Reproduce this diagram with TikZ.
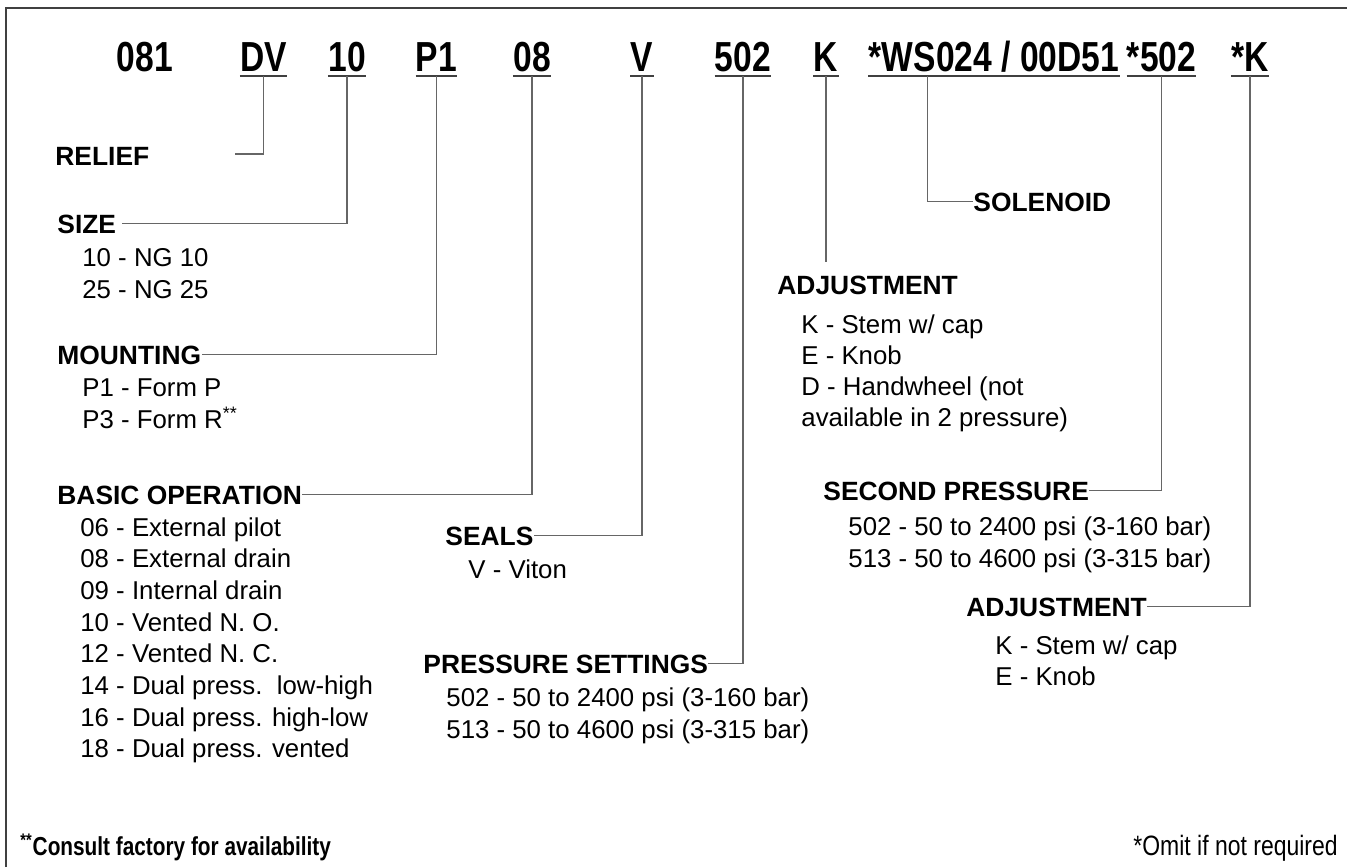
\documentclass[tikz,border=0pt]{standalone}
\usepackage{fontspec}
\setmainfont{Liberation Sans}
\newfontfamily\condbold{Liberation Sans Bold}[FakeStretch=0.8]
\newfontfamily\condreg{Liberation Sans}[FakeStretch=0.82]
\usetikzlibrary{calc}
\usetikzlibrary{positioning}
\tikzset{
  code/.style={anchor=base, inner xsep=0pt, inner ysep=2.5pt, text depth=0pt,
    font=\condbold\fontsize{21}{24}\selectfont},
  uline/.style={line width=1pt, black!75},
  head/.style={anchor=base west, inner sep=0pt, text depth=0pt,
    font=\bfseries\fontsize{13.2}{16}\selectfont},
  item/.style={anchor=base west, inner sep=0pt, font=\fontsize{12.9}{15}\selectfont},
  conn/.style={line width=0.6pt, black!60},
  frame/.style={line width=0.6pt, black!75},
}

\begin{document}
\begin{tikzpicture}[x=0.5pt, y=-0.5pt]
    \useasboundingbox (0,0) rectangle (1347,867);
    %% frame
    \draw[frame] (6,867) -- (6,8) -- (1347,8);
    %% model code
    \draw (145, 71) node[code](c081){081} ;
    \draw (263.5, 71) node[code](dv){DV} ;
    \draw (347, 71) node[code](ten){10} ;
    \draw (436.5, 71) node[code](pone){P1} ;
    \draw (532, 71) node[code](oeight){08} ;
    \draw (642, 71) node[code](vee){V} ;
    \draw (743, 71) node[code](fivetwo){502} ;
    \draw (826, 71) node[code](kay){K} ;
    \draw (994, 71) node[code](ws){*WS024 / 00D51} ;
    \draw (1161.5, 71) node[code](secfive){*502} ;
    \draw (1250, 71) node[code](seckay){*K} ;
    \foreach \c in {dv, ten, pone, oeight, vee, fivetwo, kay, ws, secfive, seckay}
        \draw[uline] (\c.south west) -- (\c.south east) ;
    %% left column
    \draw (55, 165) node[head](relief){RELIEF} ;
    \draw (57, 233) node[head](size){SIZE} ;
    \draw (82, 266) node[item](size0){10 - NG 10} ;
    \draw (82, 298) node[item](size1){25 - NG 25} ;
    \draw (57, 364) node[head](mount){MOUNTING} ;
    \draw (82, 396) node[item](mount0){P1 - Form P} ;
    \draw (82, 428) node[item](mount1){P3 - Form R\textsuperscript{**}} ;
    \draw (57, 504) node[head](basic){BASIC OPERATION} ;
    \foreach \t [count=\i from 0] in {06 - External pilot, 08 - External drain,
        09 - Internal drain, 10 - Vented N. O., 12 - Vented N. C.,
        14 - Dual press.\ \ low-high, 16 - Dual press. high-low, 18 - Dual press. vented}
        \draw (80, 536+31.7*\i) node[item](basic\i){\t} ;
    %% middle column
    \draw (445, 545) node[head](seals){SEALS} ;
    \draw (468, 578) node[item](seals0){V - Viton} ;
    \draw (423, 673) node[head](press){PRESSURE SETTINGS} ;
    \draw (446, 706) node[item](press0){502 - 50 to 2400 psi (3-160 bar)} ;
    \draw (446, 738) node[item](press1){513 - 50 to 4600 psi (3-315 bar)} ;
    %% right column
    \draw (973, 211) node[head](sol){SOLENOID} ;
    \draw (777, 294) node[head](adj){ADJUSTMENT} ;
    \draw (801, 333) node[item](adj0){K - Stem w/ cap} ;
    \draw (801, 364) node[item](adj1){E - Knob} ;
    \draw (801, 395) node[item](adj2){D - Handwheel (not} ;
    \draw (801, 426) node[item](adj3){available in 2 pressure)} ;
    \draw (823, 500) node[head](second){SECOND PRESSURE} ;
    \draw (848, 535) node[item](second0){502 - 50 to 2400 psi (3-160 bar)} ;
    \draw (848, 567) node[item](second1){513 - 50 to 4600 psi (3-315 bar)} ;
    \draw (966, 616) node[head](adjk){ADJUSTMENT} ;
    \draw (995, 654) node[item](adjk0){K - Stem w/ cap} ;
    \draw (995, 685) node[item](adjk1){E - Knob} ;
    %% notes
    \draw (20, 855) node[anchor=base west, inner sep=0pt, font=\condbold\fontsize{13}{15}\selectfont](note2){\textsuperscript{**}Consult factory for availability} ;
    \draw (1338, 855) node[anchor=base east, inner sep=0pt, font=\condreg\fontsize{14}{16}\selectfont](note1){*Omit if not required} ;
    %% connectors
    \coordinate (reliefend) at ($(relief.east)+(85,-2)$) ;
    \draw[conn] (dv.south) |- (reliefend) ;
    \draw[conn] (ten.south) |- ([xshift=3pt]size.east) ;
    \draw[conn] (pone.south) |- (mount.east) ;
    \draw[conn] (oeight.south) |- (basic.east) ;
    \draw[conn] (vee.south) |- (seals.east) ;
    \draw[conn] (fivetwo.south) |- (press.east) ;
    \draw[conn] (kay.south) -- ($(kay.south |- adj.north)+(0,-13)$) ;
    \draw[conn] ($(ws.south west)+(59,0)$) |- (sol.west) ;
    \draw[conn] (secfive.south) |- (second.east) ;
    \draw[conn] (seckay.south) |- (adjk.east) ;
\end{tikzpicture}
\end{document}
